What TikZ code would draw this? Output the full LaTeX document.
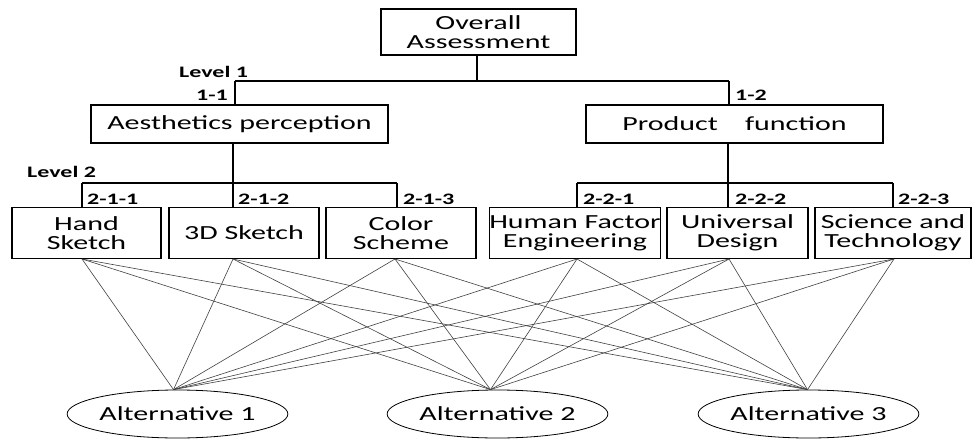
\documentclass[tikz,border=0pt]{standalone}
\usepackage{fontspec}
\setmainfont{Carlito}[FakeStretch=1.5]
\usetikzlibrary{shapes.geometric,calc}
\begin{document}
\begin{tikzpicture}[x=1pt,y=-1pt,
  box/.style={draw,line width=1.1pt,rectangle,inner sep=0pt,align=center,
    font=\fontsize{20}{19}\selectfont},
  alt/.style={draw,line width=0.8pt,ellipse,inner sep=0pt,minimum width=195pt,
    minimum height=48pt,font=\fontsize{20}{19}\selectfont},
  lab/.style={anchor=base west,inner sep=0pt,font=\fontsize{16}{16}\selectfont\bfseries},
  tree/.style={line width=1.1pt},
  cross/.style={line width=0.6pt,black!75}]
\useasboundingbox (0,0) rectangle (972,439);
% boxes
\node[box,minimum width=195pt,minimum height=46pt] (oa) at (478.5,32) {Overall\\Assessment};
\node[box,minimum width=297pt,minimum height=38pt] (ap) at (239.5,124) {Aesthetics perception};
\node[box,minimum width=297pt,minimum height=38pt] (pf) at (734.5,124) {Product~~~~function};
\node[box,minimum width=149pt,minimum height=51pt] (hs) at (86.5,233) {Hand\\Sketch};
\node[box,minimum width=150pt,minimum height=51pt] (ds) at (244,233) {3D Sketch};
\node[box,minimum width=150pt,minimum height=51pt] (cs) at (401,233) {Color\\Scheme};
\node[box,minimum width=168pt,minimum height=51pt] (hf) at (575,233) {Human Factor\\Engineering};
\node[box,minimum width=141pt,minimum height=51pt] (ud) at (737.5,233) {Universal\\Design};
\node[box,minimum width=156pt,minimum height=51pt] (st) at (893,233) {Science and\\Technology};
% alternatives
\node[alt] (a1) at (177.5,414) {Alternative 1};
\node[alt] (a2) at (497.5,414) {Alternative 2};
\node[alt] (a3) at (808.5,414) {Alternative 3};
% labels
\node[lab] (l1) at (179,77) {Level 1};
\node[lab] (l11) at (196,100) {1-1};
\node[lab] (l12) at (735,100) {1-2};
\node[lab] (l2) at (27,177) {Level 2};
\node[lab] (l211) at (87,204) {2-1-1};
\node[lab] (l212) at (238,204) {2-1-2};
\node[lab] (l213) at (403,204) {2-1-3};
\node[lab] (l221) at (583,204) {2-2-1};
\node[lab] (l222) at (735,204) {2-2-2};
\node[lab] (l223) at (898,204) {2-2-3};
% tree connectors
\coordinate (j0) at (477,81);
\coordinate (t1) at (235,81);
\coordinate (t2) at (729,81);
\draw[tree] (oa.south -| j0) -- (j0);
\draw[tree] (t1) -- (t2);
\draw[tree] (t1) -- (t1 |- ap.north);
\draw[tree] (t2) -- (t2 |- pf.north);
\coordinate (ja) at (233,183);
\coordinate (b1) at (82,183);
\coordinate (b3) at (397,183);
\draw[tree] (ap.south -| ja) -- (ja);
\draw[tree] (b1) -- (b3);
\draw[tree] (b1) -- (b1 |- hs.north);
\draw[tree] (ja) -- (ja |- ds.north);
\draw[tree] (b3) -- (b3 |- cs.north);
\coordinate (jp) at (728,183);
\coordinate (c1) at (577,183);
\coordinate (c3) at (893,183);
\draw[tree] (pf.south -| jp) -- (jp);
\draw[tree] (c1) -- (c3);
\draw[tree] (c1) -- (c1 |- hf.north);
\draw[tree] (jp) -- (jp |- ud.north);
\draw[tree] (c3) -- (c3 |- st.north);
% cross connectors
\coordinate (p1) at (82,259);
\coordinate (p2) at (233,259);
\coordinate (p3) at (395,259);
\coordinate (p4) at (577,259);
\coordinate (p5) at (729,259);
\coordinate (p6) at (894,259);
\coordinate (q1) at ($(a1.north)+(-4,0)$);
\coordinate (q2) at ($(a2.north)+(-7,0)$);
\coordinate (q3) at ($(a3.north)+(-1,0)$);
\foreach \p in {p1,p2,p3,p4,p5,p6}{
  \foreach \q in {q1,q2,q3}{
    \draw[cross] (\p) -- (\q);
  }
}
\end{tikzpicture}
\end{document}
